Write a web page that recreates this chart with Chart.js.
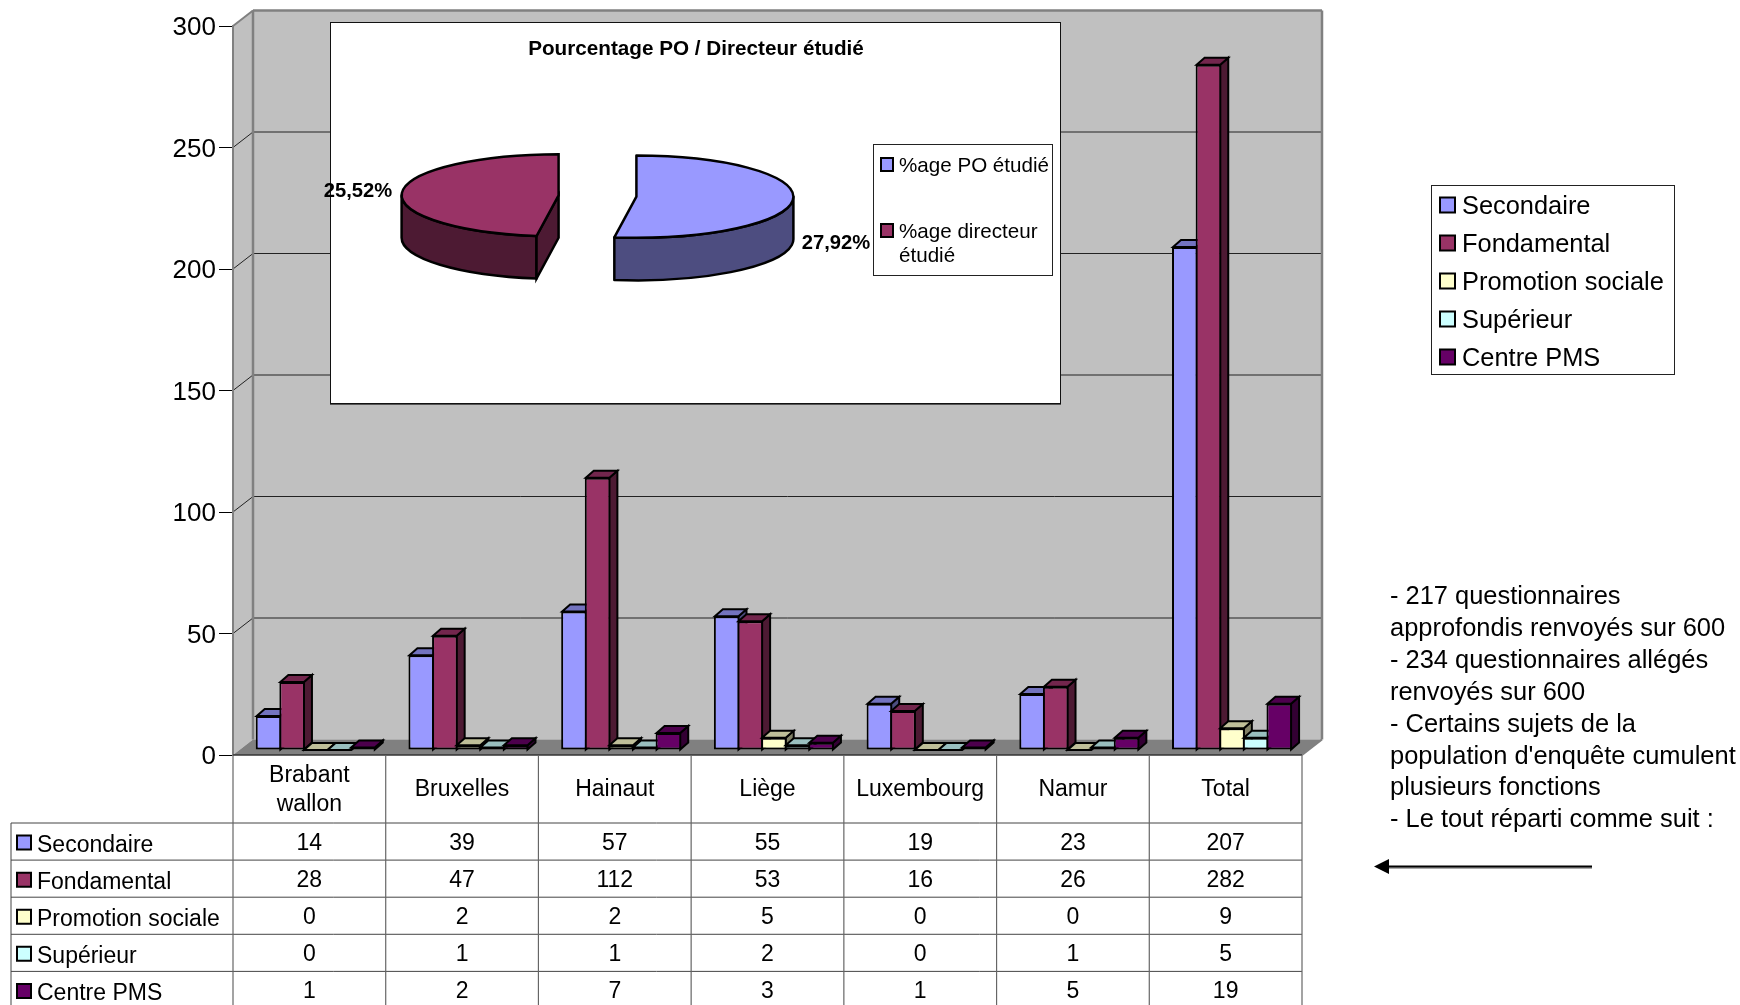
<!DOCTYPE html>
<html>
<head>
<meta charset="utf-8">
<title>Questionnaires</title>
<script src="https://cdn.jsdelivr.net/npm/chart.js@4/dist/chart.umd.min.js"></script>
<style>
  html, body { margin: 0; padding: 0; background: #fff; overflow: hidden; }
  #page { position: relative; width: 1740px; height: 1005px; }
  #mainChart { position: absolute; left: 0; top: 0; }
  #insetBox { position: absolute; left: 330px; top: 22px; width: 731px; height: 382px; box-sizing: border-box;
    background: #fff; border: 1.5px solid #111; box-shadow: 0 1px 0 #555; }
  #pieChart { position: absolute; left: 310px; top: 22px; }
  #note { position: absolute; left: 1390px; top: 580px; width: 350px; font: 25.45px/31.9px "Liberation Sans", Arial, sans-serif; color: #000; white-space: pre; }
</style>
</head>
<body>
<div id="page">
  <canvas id="mainChart" width="1740" height="1005"></canvas>
  <div id="insetBox"></div>
  <canvas id="pieChart" width="750" height="381"></canvas>
  <div id="note"></div>
</div>
<script>
// data
const categories = ["Brabant wallon", "Bruxelles", "Hainaut", "Liège", "Luxembourg", "Namur", "Total"];
const categoryLines = [["Brabant", "wallon"], ["Bruxelles"], ["Hainaut"], ["Liège"], ["Luxembourg"], ["Namur"], ["Total"]];
const seriesNames = ["Secondaire", "Fondamental", "Promotion sociale", "Supérieur", "Centre PMS"];
const secondaire = [14, 39, 57, 55, 19, 23, 207];
const fondamental = [28, 47, 112, 53, 16, 26, 282];
const promotion = [0, 2, 2, 5, 0, 0, 9];
const superieur = [0, 1, 1, 2, 0, 1, 5];
const centrePms = [1, 2, 7, 3, 1, 5, 19];
const yTicks = [0, 50, 100, 150, 200, 250, 300];
const seriesColors = ["#9999FF", "#993366", "#FFFFCC", "#CCFFFF", "#660066"];

const pieLabels = ["%age PO étudié", "%age directeur étudié"];
const pieValues = [27.92, 25.52];
const pieValueText = ["27,92%", "25,52%"];
const pieColors = ["#9999FF", "#993366"];
const pieTitle = "Pourcentage PO / Directeur étudié";

const noteLines = [
  "- 217 questionnaires",
  "approfondis renvoyés sur 600",
  "- 234 questionnaires allégés",
  "renvoyés sur 600",
  "- Certains sujets de la",
  "population d'enquête cumulent",
  "plusieurs fonctions",
  "- Le tout réparti comme suit :"
];

document.getElementById("note").textContent = noteLines.join("\n");

const FONT = '"Liberation Sans", Arial, sans-serif';
const allSeries = [secondaire, fondamental, promotion, superieur, centrePms];

function shade(hex, f) {
  const n = parseInt(hex.slice(1), 16);
  const r = Math.round((n >> 16 & 255) * f);
  const g = Math.round((n >> 8 & 255) * f);
  const b = Math.round((n & 255) * f);
  return `rgb(${r},${g},${b})`;
}

// fake 3D: how far the back wall and the bars sit from the axis
const WALL_DX = 20, WALL_DY = 15.5;
const BAR_DX = 6.4, BAR_DY = 5;
const DEPTH_X = 8, DEPTH_Y = 7;

function poly(ctx, pts, fill, stroke, lw) {
  ctx.beginPath();
  pts.forEach((p, i) => i ? ctx.lineTo(p[0], p[1]) : ctx.moveTo(p[0], p[1]));
  ctx.closePath();
  if (fill) { ctx.fillStyle = fill; ctx.fill(); }
  if (stroke) { ctx.strokeStyle = stroke; ctx.lineWidth = lw; ctx.lineJoin = "miter"; ctx.stroke(); }
}

function seg(ctx, x1, y1, x2, y2, color, lw) {
  ctx.beginPath();
  ctx.moveTo(x1, y1);
  ctx.lineTo(x2, y2);
  ctx.strokeStyle = color;
  ctx.lineWidth = lw;
  ctx.stroke();
}

const wallPlugin = {
  id: "wall",
  beforeDraw(chart) {
    const { ctx, chartArea: a, scales: { y } } = chart;
    const dx = WALL_DX, dy = WALL_DY;
    ctx.save();
    // side wall, back wall, floor
    poly(ctx, [[a.left, a.top], [a.left + dx, a.top - dy], [a.left + dx, a.bottom - dy], [a.left, a.bottom]], "#C0C0C0");
    poly(ctx, [[a.left + dx, a.top - dy], [a.right + dx, a.top - dy], [a.right + dx, a.bottom - dy], [a.left + dx, a.bottom - dy]], "#C0C0C0");
    poly(ctx, [[a.left, a.bottom], [a.left + dx, a.bottom - dy], [a.right + dx, a.bottom - dy], [a.right, a.bottom]], "#808080");
    yTicks.forEach(v => {
      if (v === 0 || v === 300) return;
      const py = y.getPixelForValue(v);
      seg(ctx, a.left, py, a.left + dx, py - dy, "#222", 1);
      seg(ctx, a.left + dx, py - dy, a.right + dx, py - dy, "#222", 1);
    });
    // wall edges
    seg(ctx, a.left + dx, a.top - dy, a.left + dx, a.bottom - dy, "#808080", 2.5);
    seg(ctx, a.left, a.top, a.left + dx, a.top - dy, "#808080", 2);
    seg(ctx, a.left + dx, a.top - dy, a.right + dx, a.top - dy, "#808080", 2.5);
    seg(ctx, a.right + dx, a.top - dy, a.right + dx, a.bottom - dy, "#808080", 2.5);
    seg(ctx, a.right, a.bottom, a.right + dx, a.bottom - dy, "#808080", 2);
    ctx.restore();
  },
  // datasets are painted left to right here, each one over the side face of the one before
  beforeDatasetsDraw(chart) {
    const ctx = chart.ctx;
    ctx.save();
    ctx.translate(BAR_DX, -BAR_DY);
    chart.getSortedVisibleDatasetMetas().forEach(meta => {
      const color = seriesColors[meta.index];
      meta.data.forEach(bar => {
        const p = bar.getProps(["x", "y", "base", "width"], true);
        const l = p.x - p.width / 2 + 1, r = p.x + p.width / 2 - 1;
        poly(ctx, [[r, p.y], [r + DEPTH_X, p.y - DEPTH_Y], [r + DEPTH_X, p.base - DEPTH_Y], [r, p.base]], shade(color, 0.5), "#000", 2);
        poly(ctx, [[l, p.y], [l + DEPTH_X, p.y - DEPTH_Y], [r + DEPTH_X, p.y - DEPTH_Y], [r, p.y]], shade(color, 0.75), "#000", 2);
      });
      meta.controller.draw();
    });
    ctx.restore();
    return false;
  },
  afterDraw(chart) {
    drawTable(chart);
    drawLegend(chart);
    drawArrow(chart.ctx);
  }
};

function drawTable(chart) {
  const { ctx, chartArea: a, scales: { x } } = chart;
  const tableLeft = 11;
  const headBottom = 823;
  const rowH = 37.1;
  const colW = (a.right - a.left) / categories.length;
  ctx.save();
  // front edge of the floor, head of the table
  seg(ctx, a.left, a.bottom, a.right, a.bottom, "#333", 1.5);
  seg(ctx, tableLeft, headBottom, a.right, headBottom, "#444", 1);
  for (let r = 1; r <= seriesNames.length; r++) {
    seg(ctx, tableLeft, headBottom + r * rowH, a.right, headBottom + r * rowH, "#444", 1);
  }
  seg(ctx, tableLeft, headBottom, tableLeft, 1005, "#444", 1);
  for (let i = 0; i <= categories.length; i++) {
    seg(ctx, a.left + i * colW, a.bottom, a.left + i * colW, 1005, "#666", 1.2);
  }
  ctx.textBaseline = "middle";
  ctx.font = `23px ${FONT}`;
  ctx.textAlign = "center";
  ctx.fillStyle = "#000";
  categoryLines.forEach((lines, i) => {
    const cx = x.getPixelForTick(i);
    const mid = 790;
    lines.forEach((t, k) => {
      ctx.fillText(t, cx, mid + (k - (lines.length - 1) / 2) * 29);
    });
  });
  allSeries.forEach((vals, r) => {
    const rowY = headBottom + r * rowH + rowH / 2;
    ctx.textAlign = "center";
    ctx.fillStyle = "#000";
    vals.forEach((v, i) => ctx.fillText(String(v), x.getPixelForTick(i), rowY + 2));
    poly(ctx, [[17, rowY - 6], [31, rowY - 6], [31, rowY + 8], [17, rowY + 8]], seriesColors[r], "#000", 2);
    ctx.textAlign = "left";
    ctx.fillStyle = "#000";
    ctx.fillText(seriesNames[r], 37, rowY + 4);
  });
  ctx.restore();
}

function drawLegend(chart) {
  const ctx = chart.ctx;
  ctx.save();
  ctx.fillStyle = "#fff";
  ctx.fillRect(1431, 185, 244, 190);
  ctx.strokeStyle = "#222";
  ctx.lineWidth = 1;
  ctx.strokeRect(1431.5, 185.5, 243, 189);
  ctx.font = `25.4px ${FONT}`;
  ctx.textBaseline = "middle";
  ctx.textAlign = "left";
  seriesNames.forEach((name, i) => {
    const cy = 205 + i * 38;
    poly(ctx, [[1440, cy - 7.5], [1455, cy - 7.5], [1455, cy + 7.5], [1440, cy + 7.5]], seriesColors[i], "#000", 2);
    ctx.fillStyle = "#000";
    ctx.fillText(name, 1462, cy + 2);
  });
  ctx.restore();
}

function drawArrow(ctx) {
  ctx.save();
  seg(ctx, 1388, 868, 1592, 868, "#aaa", 2);
  seg(ctx, 1386, 866.5, 1592, 866.5, "#000", 2);
  poly(ctx, [[1374, 866.5], [1389, 859], [1389, 874]], "#000");
  ctx.restore();
}

new Chart(document.getElementById("mainChart"), {
  type: "bar",
  data: {
    labels: categories,
    datasets: seriesNames.map((name, i) => ({
      label: name,
      data: allSeries[i],
      backgroundColor: seriesColors[i],
      borderColor: "#000",
      borderWidth: 2,
      borderSkipped: false,
      categoryPercentage: 0.773,
      barPercentage: 1.085
    }))
  },
  options: {
    responsive: false,
    animation: false,
    layout: { padding: { left: 0, top: 26, right: 438, bottom: 250 } },
    plugins: { legend: { display: false }, title: { display: false }, tooltip: { enabled: false } },
    scales: {
      x: {
        afterFit(s) { s.height = 0; },
        ticks: { display: false },
        grid: { display: false },
        border: { display: false }
      },
      y: {
        min: 0,
        max: 300,
        afterFit(s) { s.width = 233; },
        afterBuildTicks(s) { s.ticks = yTicks.map(v => ({ value: v })); },
        ticks: { color: "#000", font: { family: FONT, size: 26 }, padding: 3, labelOffset: 2 },
        grid: { drawOnChartArea: false, color: "#000", lineWidth: 1, tickLength: 14 },
        border: { color: "#808080", width: 2 }
      }
    }
  },
  plugins: [wallPlugin]
});

// pie is squashed to an ellipse, depth drawn under it, slices pulled apart sideways
const PIE_SQUASH = 0.262;
const PIE_DEPTH = 42.5;
const PIE_EXPLODE = 39;

function sliceGeom(arc) {
  const mid = (arc.startAngle + arc.endAngle) / 2;
  return {
    x: arc.x + Math.cos(mid) * PIE_EXPLODE,
    y: arc.y + Math.sin(mid) * PIE_EXPLODE * PIE_SQUASH,
    rx: arc.outerRadius,
    ry: arc.outerRadius * PIE_SQUASH,
    a0: arc.startAngle,
    a1: arc.endAngle
  };
}

const piePlugin = {
  id: "pie3d",
  beforeDatasetsDraw(chart) {
    const ctx = chart.ctx;
    const arcs = chart.getDatasetMeta(0).data;
    ctx.save();
    ctx.lineJoin = "round";
    arcs.forEach((arc, i) => {
      const g = sliceGeom(arc);
      const side = shade(pieColors[i], 0.5);
      const from = Math.max(g.a0, 0), to = Math.min(g.a1, Math.PI);
      ctx.lineWidth = 2.5;
      ctx.strokeStyle = "#000";
      if (to > from) {
        ctx.beginPath();
        ctx.ellipse(g.x, g.y, g.rx, g.ry, 0, from, to);
        ctx.ellipse(g.x, g.y + PIE_DEPTH, g.rx, g.ry, 0, to, from, true);
        ctx.closePath();
        ctx.fillStyle = side;
        ctx.fill();
        ctx.stroke();
      }
      if (-Math.cos(g.a0) > 1e-6) {
        const ex = g.x + Math.cos(g.a0) * g.rx, ey = g.y + Math.sin(g.a0) * g.ry;
        poly(ctx, [[g.x, g.y], [ex, ey], [ex, ey + PIE_DEPTH], [g.x, g.y + PIE_DEPTH]], side, "#000", 2.5);
      }
      // the library's own arc, flattened and moved out
      ctx.save();
      ctx.translate(g.x, g.y);
      ctx.scale(1, PIE_SQUASH);
      ctx.translate(-arc.x, -arc.y);
      arc.draw(ctx, chart.chartArea);
      ctx.restore();
      // outline at a steady width
      ctx.beginPath();
      ctx.moveTo(g.x, g.y);
      ctx.ellipse(g.x, g.y, g.rx, g.ry, 0, g.a0, g.a1);
      ctx.closePath();
      ctx.lineWidth = 2.5;
      ctx.strokeStyle = "#000";
      ctx.stroke();
    });
    ctx.restore();
    drawPieText(chart);
    return false;
  }
};

function drawPieText(chart) {
  const ctx = chart.ctx;
  const ox = 310, oy = 22;
  ctx.save();
  ctx.fillStyle = "#000";
  ctx.textBaseline = "middle";
  ctx.textAlign = "center";
  ctx.font = `bold 20.7px ${FONT}`;
  ctx.fillText(pieTitle, 696 - ox, 49 - oy);
  ctx.font = `bold 20.2px ${FONT}`;
  ctx.fillText(pieValueText[0], 836 - ox, 243 - oy);
  ctx.fillText(pieValueText[1], 358 - ox, 191 - oy);
  // small legend
  ctx.fillStyle = "#fff";
  ctx.fillRect(873 - ox, 144 - oy, 180, 132);
  ctx.strokeStyle = "#222";
  ctx.lineWidth = 1;
  ctx.strokeRect(873.5 - ox, 144.5 - oy, 179, 131);
  poly(ctx, [[881 - ox, 158 - oy], [893 - ox, 158 - oy], [893 - ox, 171 - oy], [881 - ox, 171 - oy]], pieColors[0], "#000", 2);
  poly(ctx, [[881 - ox, 224 - oy], [893 - ox, 224 - oy], [893 - ox, 237 - oy], [881 - ox, 237 - oy]], pieColors[1], "#000", 2);
  ctx.fillStyle = "#000";
  ctx.textAlign = "left";
  ctx.font = `20.6px ${FONT}`;
  ctx.fillText(pieLabels[0], 899 - ox, 166 - oy);
  const words = pieLabels[1].split(" ");
  ctx.fillText(words[0] + " " + words[1], 899 - ox, 232 - oy);
  ctx.fillText(words[2], 899 - ox, 256 - oy);
  ctx.restore();
}

new Chart(document.getElementById("pieChart"), {
  type: "pie",
  data: {
    labels: pieLabels,
    datasets: [{
      data: pieValues,
      backgroundColor: pieColors,
      borderWidth: 0,
      radius: 157
    }]
  },
  options: {
    responsive: false,
    animation: false,
    layout: { padding: { left: 0, right: 175, top: 0, bottom: 33 } },
    plugins: {
      legend: { display: false },
      tooltip: { enabled: false },
      title: { display: false }
    }
  },
  plugins: [piePlugin]
});
</script>
</body>
</html>
